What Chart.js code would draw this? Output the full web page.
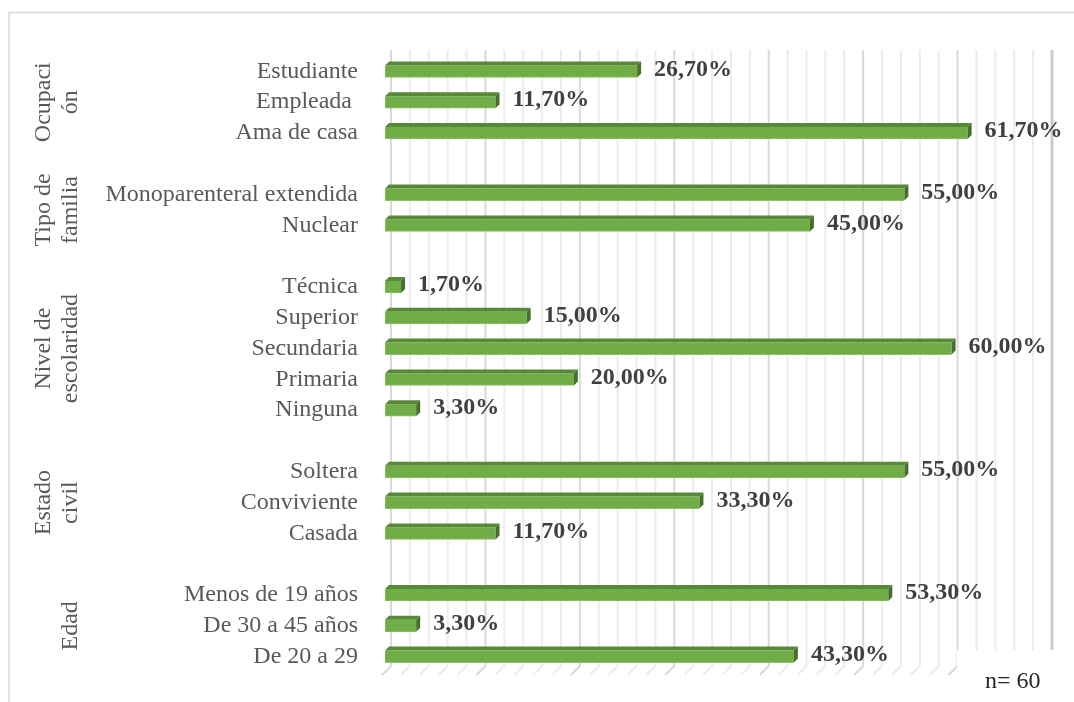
<!DOCTYPE html>
<html lang="es">
<head>
<meta charset="utf-8">
<title>Características sociodemográficas</title>
<script src="https://cdn.jsdelivr.net/npm/chart.js@4.4.0/dist/chart.umd.min.js"></script>
<style>
  html, body { margin: 0; padding: 0; background: #ffffff; }
  #wrap { position: relative; width: 1074px; height: 702px; }
</style>
</head>
<body>
<div id="wrap"><canvas id="perfilChart" width="1074" height="702"></canvas></div>
<script>
// Grupos (de arriba hacia abajo) y sus categorías
const grupos = [['Ocupaci', 'ón'], ['Tipo de', 'familia'], ['Nivel de', 'escolaridad'], ['Estado', 'civil'], ['Edad']];
const ocupacion = ['Estudiante', 'Empleada ', 'Ama de casa'];
const ocupacionPct = [26.7, 11.7, 61.7];
const tipoFamilia = ['Monoparenteral extendida', 'Nuclear'];
const tipoFamiliaPct = [55.0, 45.0];
const escolaridad = ['Técnica', 'Superior', 'Secundaria', 'Primaria', 'Ninguna'];
const escolaridadPct = [1.7, 15.0, 60.0, 20.0, 3.3];
const estadoCivil = ['Soltera', 'Conviviente', 'Casada'];
const estadoCivilPct = [55.0, 33.3, 11.7];
const edad = ['Menos de 19 años', 'De 30 a 45 años', 'De 20 a 29'];
const edadPct = [53.3, 3.3, 43.3];
const muestra = 'n= 60';

const bloques = [
    [ocupacion, ocupacionPct],
    [tipoFamilia, tipoFamiliaPct],
    [escolaridad, escolaridadPct],
    [estadoCivil, estadoCivilPct],
    [edad, edadPct]
];

// una fila vacía entre grupos
const labels = [];
const valores = [];
const rangos = [];
bloques.forEach(([cats, vals], i) => {
    if (i > 0) { labels.push(''); valores.push(null); }
    rangos.push([labels.length, labels.length + cats.length - 1]);
    cats.forEach((c, j) => { labels.push(c); valores.push(vals[j]); });
});

const serif = '"Liberation Serif", "Times New Roman", serif';
const gris = '#595959';
const fondo = 6;   // desplazamiento de la pared del fondo
const prof = 4;    // profundidad de las barras

const marco = {
    id: 'marco',
    beforeDraw(chart) {
        const ctx = chart.ctx;
        ctx.save();
        ctx.strokeStyle = '#d9d9d9';
        ctx.lineWidth = 1.5;
        ctx.strokeRect(9, 12.5, 1200, 1000);
        ctx.restore();
    }
};

// rejilla en perspectiva
const rejilla = {
    id: 'rejilla',
    beforeDatasetsDraw(chart) {
        const { ctx, chartArea: a, scales: { x } } = chart;
        ctx.save();
        for (let v = x.min; v <= x.max; v += 2) {
            const px = x.getPixelForValue(v);
            const mayor = v % 10 === 0;
            ctx.strokeStyle = v === x.max ? '#cccccc' : (mayor ? '#d9d9d9' : '#ececec');
            ctx.lineWidth = v === x.max ? 3 : 2;
            ctx.beginPath();
            ctx.moveTo(px + fondo, a.top - fondo);
            ctx.lineTo(px + fondo, a.bottom - fondo);
            ctx.lineTo(px - 3, a.bottom + 3);
            ctx.stroke();
        }
        ctx.restore();
    }
};

// caras superior y lateral de las barras, y etiquetas de valor
const barras3d = {
    id: 'barras3d',
    afterDatasetsDraw(chart) {
        const ctx = chart.ctx;
        const meta = chart.getDatasetMeta(0);
        ctx.save();
        meta.data.forEach((bar, i) => {
            const v = valores[i];
            if (v === null) return;
            const { x, y, base, height } = bar.getProps(['x', 'y', 'base', 'height'], true);
            const top = y - height / 2;
            const bottom = y + height / 2;
            ctx.fillStyle = '#578a36';
            ctx.beginPath();
            ctx.moveTo(base, top);
            ctx.lineTo(base + prof, top - prof);
            ctx.lineTo(x + prof, top - prof);
            ctx.lineTo(x, top);
            ctx.closePath();
            ctx.fill();
            ctx.fillStyle = '#466f2d';
            ctx.beginPath();
            ctx.moveTo(x, top);
            ctx.lineTo(x + prof, top - prof);
            ctx.lineTo(x + prof, bottom - prof);
            ctx.lineTo(x, bottom);
            ctx.closePath();
            ctx.fill();

            ctx.fillStyle = '#404040';
            ctx.font = 'bold 24px ' + serif;
            ctx.textAlign = 'left';
            ctx.textBaseline = 'middle';
            ctx.fillText(v.toFixed(2).replace('.', ',') + '%', x + prof + 13, y - 2);
        });
        ctx.restore();
    }
};

// nombres de grupo girados a la izquierda
const nombresGrupo = {
    id: 'nombresGrupo',
    afterDraw(chart) {
        const { ctx, scales: { y } } = chart;
        ctx.save();
        ctx.fillStyle = gris;
        ctx.font = '24px ' + serif;
        ctx.textAlign = 'center';
        ctx.textBaseline = 'middle';
        grupos.forEach((lineas, i) => {
            const [a, b] = rangos[i];
            const cy = (y.getPixelForValue(a) + y.getPixelForValue(b)) / 2;
            lineas.forEach((t, k) => {
                const cx = 71 - (lineas.length - 1 - k) * 27;
                ctx.save();
                ctx.translate(cx, cy);
                ctx.rotate(-Math.PI / 2);
                ctx.fillText(t, 0, 0);
                ctx.restore();
            });
        });

        // recuadro con el tamaño de muestra
        ctx.fillStyle = '#ffffff';
        ctx.fillRect(957, 650, 117, 52);
        ctx.fillStyle = '#262626';
        ctx.textAlign = 'left';
        ctx.textBaseline = 'alphabetic';
        ctx.fillText(muestra, 985, 688);
        ctx.restore();
    }
};

const ctx = document.getElementById('perfilChart').getContext('2d');
new Chart(ctx, {
    type: 'bar',
    data: {
        labels: labels,
        datasets: [{
            data: valores,
            backgroundColor: '#70ad47',
            borderColor: '#8fc06a',
            borderWidth: { top: 0, right: 0, bottom: 1, left: 1 },
            borderSkipped: false,
            barThickness: 12
        }]
    },
    options: {
        indexAxis: 'y',
        responsive: false,
        animation: false,
        layout: { padding: { left: 0, right: 28, top: 56, bottom: 30 } },
        plugins: {
            legend: { display: false },
            tooltip: { enabled: false }
        },
        scales: {
            x: {
                display: false,
                min: 0,
                max: 70
            },
            y: {
                grid: { display: false, drawTicks: false },
                border: { display: false },
                afterFit(scale) {
                    scale.width = 385;
                    scale.paddingTop = 0;
                    scale.paddingBottom = 0;
                },
                ticks: {
                    autoSkip: false,
                    padding: 27,
                    color: gris,
                    font: { family: serif, size: 24 }
                }
            }
        }
    },
    plugins: [marco, rejilla, barras3d, nombresGrupo]
});
</script>
</body>
</html>
